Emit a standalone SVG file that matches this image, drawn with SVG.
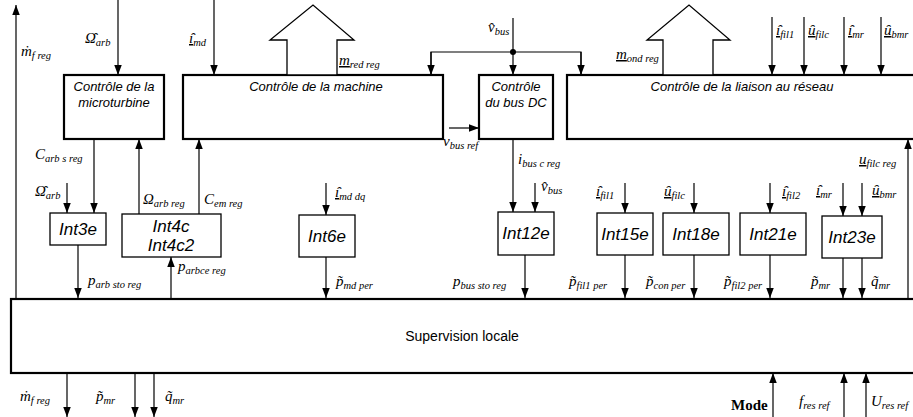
<svg xmlns="http://www.w3.org/2000/svg" width="913" height="417" viewBox="0 0 913 417">
<style>
.box{fill:#fff;stroke:#000;stroke-width:2.2}
.ibox{fill:#fff;stroke:#000;stroke-width:1.3}
.ln{fill:none;stroke:#000;stroke-width:1.2}
.ar{fill:none;stroke:#000;stroke-width:1.2;marker-end:url(#ah)}
.big{fill:#fff;stroke:#000;stroke-width:1.3}
.bt{font-family:"Liberation Sans",Arial,sans-serif;font-style:italic;font-size:13px;text-anchor:middle}
.it{font-family:"Liberation Sans",Arial,sans-serif;font-style:italic;font-size:17px;text-anchor:middle}
.m{font-family:"Liberation Serif","DejaVu Serif",serif;font-style:italic;font-size:15px}
.s{font-size:10.5px}
.u{text-decoration:underline}
.sv{font-family:"Liberation Sans",Arial,sans-serif;font-size:14px;text-anchor:middle}
.md{font-family:"Liberation Serif",serif;font-weight:bold;font-size:15px}
</style>
<defs>
<marker id="ah" markerUnits="userSpaceOnUse" markerWidth="10" markerHeight="13" refX="12" refY="4.5" orient="auto" viewBox="0 0 12 9">
<path d="M0,0 L12,4.5 L0,9 Z" fill="#000"/>
</marker>
</defs>

<g id="microturbine">
<rect class="box" x="64" y="75" width="100" height="64"/>
<text class="bt" x="114" y="91">Contrôle de la</text>
<text class="bt" x="114" y="107">microturbine</text>
</g>
<g id="machine">
<rect class="box" x="183" y="75" width="260" height="64"/>
<text class="bt" x="316" y="91">Contrôle de la machine</text>
<polygon class="big" points="287,75 287,40 270,40 313,5 354,40 337,40 337,75"/>
</g>
<g id="busdc">
<rect class="box" x="479" y="75" width="74" height="64"/>
<text class="bt" x="516" y="91">Contrôle</text>
<text class="bt" x="516" y="107">du bus DC</text>
</g>
<g id="liaison">
<rect class="box" x="567" y="75" width="360" height="64"/>
<text class="bt" x="742" y="91">Contrôle de la liaison au réseau</text>
<polygon class="big" points="663,75 663,40 647,40 689,5 730,40 713,40 713,75"/>
</g>
<g id="int3e"><rect class="ibox" x="50" y="213" width="56" height="32"/><text class="it" x="78" y="235">Int3e</text></g>
<g id="int4c"><rect class="ibox" x="122" y="214" width="99" height="43"/><text class="it" x="171" y="232">Int4c</text><text class="it" x="171" y="251">Int4c2</text></g>
<g id="int6e"><rect class="ibox" x="299" y="215" width="56" height="42"/><text class="it" x="327" y="242">Int6e</text></g>
<g id="int12e"><rect class="ibox" x="498" y="212" width="56" height="43"/><text class="it" x="526" y="239">Int12e</text></g>
<g id="int15e"><rect class="ibox" x="597" y="213" width="56" height="42"/><text class="it" x="625" y="240">Int15e</text></g>
<g id="int18e"><rect class="ibox" x="663" y="213" width="66" height="42"/><text class="it" x="696" y="240">Int18e</text></g>
<g id="int21e"><rect class="ibox" x="740" y="213" width="66" height="42"/><text class="it" x="773" y="240">Int21e</text></g>
<g id="int23e"><rect class="ibox" x="822" y="216" width="60" height="42"/><text class="it" x="852" y="243">Int23e</text></g>
<g id="supervision">
<rect class="box" x="11" y="299" width="920" height="74"/>
<text class="sv" x="462" y="341">Supervision locale</text>
</g>

<g id="connectors">
<line class="ar" x1="16" y1="298" x2="16" y2="5"/>
<line class="ar" x1="118" y1="0" x2="118" y2="75"/>
<line class="ar" x1="214" y1="0" x2="214" y2="75"/>
<line class="ar" x1="513" y1="18" x2="513" y2="75"/>
<polyline class="ln" points="431,75 431,52 581,52 581,75"/>
<line class="ar" x1="431" y1="52" x2="431" y2="75"/>
<line class="ar" x1="581" y1="52" x2="581" y2="75"/>
<circle cx="513" cy="52" r="3" fill="#000"/>
<line class="ar" x1="449" y1="128" x2="479" y2="128"/>
<line class="ar" x1="772" y1="17" x2="772" y2="75"/>
<line class="ar" x1="804" y1="17" x2="804" y2="75"/>
<line class="ar" x1="844" y1="17" x2="844" y2="75"/>
<line class="ar" x1="881" y1="17" x2="881" y2="75"/>
<line class="ar" x1="94" y1="139" x2="94" y2="213"/>
<line class="ar" x1="67" y1="183" x2="67" y2="213"/>
<line class="ar" x1="78" y1="245" x2="78" y2="298"/>
<line class="ar" x1="139" y1="214" x2="139" y2="139"/>
<line class="ar" x1="199" y1="214" x2="199" y2="139"/>
<line class="ar" x1="171" y1="298" x2="171" y2="257"/>
<line class="ar" x1="326" y1="183" x2="326" y2="215"/>
<line class="ar" x1="326" y1="257" x2="326" y2="298"/>
<line class="ar" x1="513" y1="139" x2="513" y2="212"/>
<line class="ar" x1="535" y1="183" x2="535" y2="212"/>
<line class="ar" x1="525" y1="255" x2="525" y2="298"/>
<line class="ar" x1="625" y1="183" x2="625" y2="213"/>
<line class="ar" x1="625" y1="255" x2="625" y2="298"/>
<line class="ar" x1="694" y1="183" x2="694" y2="213"/>
<line class="ar" x1="694" y1="255" x2="694" y2="298"/>
<line class="ar" x1="770" y1="183" x2="770" y2="213"/>
<line class="ar" x1="770" y1="255" x2="770" y2="298"/>
<line class="ar" x1="843" y1="183" x2="843" y2="216"/>
<line class="ar" x1="862" y1="183" x2="862" y2="216"/>
<line class="ar" x1="843" y1="258" x2="843" y2="298"/>
<line class="ar" x1="862" y1="258" x2="862" y2="298"/>
<line class="ar" x1="908" y1="298" x2="908" y2="139"/>
<line class="ar" x1="67" y1="373" x2="67" y2="417"/>
<line class="ar" x1="135" y1="373" x2="135" y2="417"/>
<line class="ar" x1="154" y1="373" x2="154" y2="417"/>
<line class="ar" x1="773" y1="417" x2="773" y2="373"/>
<line class="ar" x1="844" y1="417" x2="844" y2="373"/>
<line class="ar" x1="866" y1="417" x2="866" y2="373"/>
</g>

<g id="labels">
<text class="m" x="21" y="56">ṁ<tspan class="s" dy="3">f reg</tspan></text>
<text class="m" x="85" y="43">Ω̑<tspan class="s" dy="3">arb</tspan></text>
<text class="m" x="189" y="43"><tspan class="u">ı̑</tspan><tspan class="s" dy="3">md</tspan></text>
<text class="m" x="339" y="65"><tspan class="u">m</tspan><tspan class="s" dy="3">red reg</tspan></text>
<text class="m" x="488" y="32">v̑<tspan class="s" dy="3">bus</tspan></text>
<text class="m" x="616" y="59"><tspan class="u">m</tspan><tspan class="s" dy="3">ond reg</tspan></text>
<text class="m" x="776" y="35"><tspan class="u">ı̑</tspan><tspan class="s" dy="3">fil1</tspan></text>
<text class="m" x="808" y="35"><tspan class="u">ȗ</tspan><tspan class="s" dy="3">filc</tspan></text>
<text class="m" x="848" y="35"><tspan class="u">ı̑</tspan><tspan class="s" dy="3">mr</tspan></text>
<text class="m" x="884" y="35"><tspan class="u">ȗ</tspan><tspan class="s" dy="3">bmr</tspan></text>
<text class="m" x="443" y="146">v<tspan class="s" dy="3">bus ref</tspan></text>
<text class="m" x="35" y="159">C<tspan class="s" dy="3">arb s reg</tspan></text>
<text class="m" x="35" y="196">Ω̑<tspan class="s" dy="3">arb</tspan></text>
<text class="m" x="143" y="204">Ω<tspan class="s" dy="3">arb reg</tspan></text>
<text class="m" x="204" y="204">C<tspan class="s" dy="3">em reg</tspan></text>
<text class="m" x="88" y="285">p<tspan class="s" dy="3">arb sto reg</tspan></text>
<text class="m" x="178" y="271">p<tspan class="s" dy="3">arbce reg</tspan></text>
<text class="m" x="335" y="197"><tspan class="u">ı̑</tspan><tspan class="s" dy="3">md dq</tspan></text>
<text class="m" x="336" y="286">p̃<tspan class="s" dy="3">md per</tspan></text>
<text class="m" x="518" y="164">i<tspan class="s" dy="3">bus c reg</tspan></text>
<text class="m" x="541" y="191">v̑<tspan class="s" dy="3">bus</tspan></text>
<text class="m" x="453" y="286">p<tspan class="s" dy="3">bus sto reg</tspan></text>
<text class="m" x="596" y="196"><tspan class="u">ı̑</tspan><tspan class="s" dy="3">fil1</tspan></text>
<text class="m" x="664" y="196"><tspan class="u">ȗ</tspan><tspan class="s" dy="3">filc</tspan></text>
<text class="m" x="782" y="196"><tspan class="u">ı̑</tspan><tspan class="s" dy="3">fil2</tspan></text>
<text class="m" x="816" y="195"><tspan class="u">ı̑</tspan><tspan class="s" dy="3">mr</tspan></text>
<text class="m" x="872" y="195"><tspan class="u">ȗ</tspan><tspan class="s" dy="3">bmr</tspan></text>
<text class="m" x="569" y="286">p̃<tspan class="s" dy="3">fil1 per</tspan></text>
<text class="m" x="646" y="286">p̃<tspan class="s" dy="3">con per</tspan></text>
<text class="m" x="724" y="286">p̃<tspan class="s" dy="3">fil2 per</tspan></text>
<text class="m" x="811" y="286">p̃<tspan class="s" dy="3">mr</tspan></text>
<text class="m" x="871" y="286">q̃<tspan class="s" dy="3">mr</tspan></text>
<text class="m" x="859" y="164"><tspan class="u">u</tspan><tspan class="s" dy="3">filc reg</tspan></text>
<text class="m" x="20" y="401">ṁ<tspan class="s" dy="3">f reg</tspan></text>
<text class="m" x="96" y="401">p̃<tspan class="s" dy="3">mr</tspan></text>
<text class="m" x="165" y="401">q̃<tspan class="s" dy="3">mr</tspan></text>
<text class="md" x="731" y="410">Mode</text>
<text class="m" x="799" y="406">f<tspan class="s" dy="3">res ref</tspan></text>
<text class="m" x="871" y="406">U<tspan class="s" dy="3">res ref</tspan></text>
</g>
</svg>
